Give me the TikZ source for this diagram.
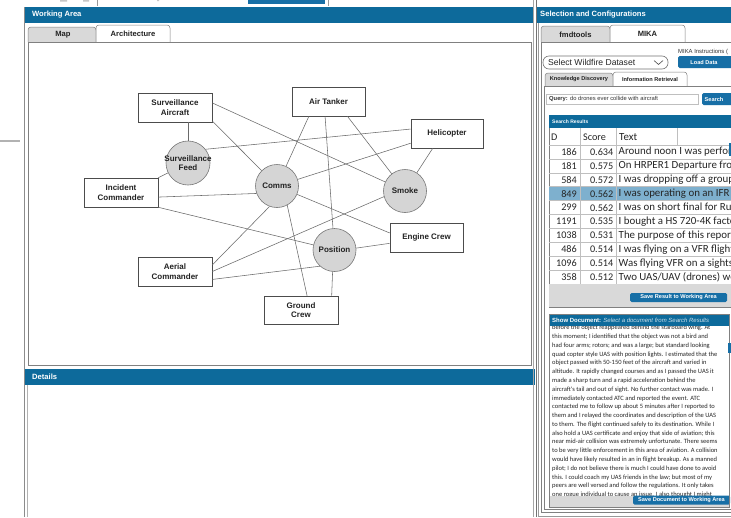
\documentclass[tikz,border=0pt]{standalone}
\usepackage{fontspec}
\setmainfont{Liberation Sans}
\newfontfamily\calib{Carlito}
\usetikzlibrary{calc}
\definecolor{hdrblue}{HTML}{0D6A9B}
\definecolor{btnblue}{HTML}{176FA6}
\definecolor{tabgray}{HTML}{D9D9D9}
\definecolor{rowsel}{HTML}{7EB0CE}
\definecolor{hubfill}{HTML}{D5D5D5}
\definecolor{hubline}{HTML}{777777}
\definecolor{edgegray}{HTML}{6A6A6A}
\definecolor{ink}{HTML}{222222}
\begin{document}
\begin{tikzpicture}[x=1pt,y=-1pt,
  box/.style={draw=black!70, fill=white, line width=0.6pt, minimum width=74pt,
    minimum height=29pt, inner sep=0pt, align=center,
    font=\fontsize{8}{9.5}\selectfont\bfseries, text=ink},
  hub/.style={circle, draw=hubline, fill=hubfill, line width=0.6pt,
    minimum size=43pt, inner sep=0pt},
  hubtext/.style={inner sep=0pt, align=center, font=\fontsize{8}{9.5}\selectfont\bfseries, text=ink},
  link/.style={draw=edgegray, line width=0.55pt},
  headtext/.style={text=white, anchor=west, inner sep=0pt, font=\fontsize{7.6}{9}\selectfont\bfseries},
  tabtext/.style={inner sep=0pt, text=ink, font=\fontsize{7.6}{9}\selectfont\bfseries},
  smalltab/.style={inner sep=0pt, text=ink, font=\fontsize{5.6}{7}\selectfont\bfseries},
  btntext/.style={text=white, inner sep=0pt, font=\fontsize{5.6}{7}\selectfont\bfseries},
  cell/.style={inner sep=0pt, text=black!85, font=\calib\fontsize{10.2}{12}\selectfont},
  celltext/.style={inner sep=0pt, text=black!85, anchor=west, font=\calib\fontsize{10.9}{12}\selectfont},
  docline/.style={anchor=west, inner sep=0pt, text=black!85, font=\calib\fontsize{6.5}{8}\selectfont},
  tabframe/.style={draw=black!50, line width=0.5pt, rounded corners=3pt},
  frame/.style={draw=black!50, line width=0.5pt}
]
\clip (0,0) rectangle (731,517);
\fill[white] (0,0) rectangle (731,517);

% --- strip of the window above the panels ---
\fill[btnblue] (248,-4) rectangle (325,4);
\draw[black!40, line width=0.8pt] (97,0) -- (97,6) (328,0) -- (328,6);
\fill[black!22] (60,0) rectangle (67,1.5) (83,0) rectangle (89,1.5) (157,0) rectangle (159,1);
\draw[black!30, line width=1.2pt] (0,141) -- (20,141);

% --- Working Area panel ---
\draw[black!45, line width=0.8pt] (24.5,7) -- (24.5,517);
\draw[black!30, line width=0.6pt] (27,385) -- (27,517);
\fill[hdrblue] (24.5,7) rectangle (533,23);
\node[headtext] at (32,15) {Working Area};
\filldraw[tabframe, fill=tabgray] (28,42) |- (96,27) -- (96,42);
\filldraw[tabframe, fill=white] (96,42) |- (170,25) -- (170,42);
\node[tabtext] at (63,34.5) {Map};
\node[tabtext] at (133,34) {Architecture};
\draw[frame] (28,42) rectangle (531,365);

% --- architecture graph ---
\node[box] (SA) at (175,107.5) {Surveillance\\Aircraft};
\node[box, minimum width=73pt] (AT) at (328.5,101.5) {Air Tanker};
\node[box, minimum width=72pt] (HE) at (447,133.5) {Helicopter};
\node[box] (IC) at (121,192.5) {Incident\\Commander};
\node[box, minimum width=73pt] (EC) at (426.5,237.5) {Engine Crew};
\node[box] (AC) at (175,271.5) {Aerial\\Commander};
\node[box, minimum height=28pt] (GC) at (301,310) {Ground\\Crew};
\node[hub, minimum size=44pt] (SF) at (188,163) {};
\node[hubtext] at (SF) {Surveillance\\Feed};
\node[hub] (CO) at (277,186) {};
\node[hubtext] at (CO) {Comms};
\node[hub] (SM) at (405,191) {};
\node[hubtext] at (SM) {Smoke};
\node[hub] (PO) at (334.5,250) {};
\node[hubtext] at (PO) {Position};

\draw[link] (SF.north) -- (SF.north |- SA.south);
\draw[link] (SA.7) -- (SM);
\draw[link] (SA.340) -- (CO);
\draw[link] (SF.38) -- (HE.173);
\draw[link] (IC.north east) -- (SF);
\draw[link] (IC.353) -- (CO.200);
\draw[link] (IC.south east) -- (PO);
\draw[link] (AT.217) -- (CO);
\draw[link] (AT.257) -- (PO);
\draw[link] (AT.322) -- (SM);
\draw[link] (HE.226) -- (SM);
\draw[link] (HE.195) -- (CO);
\draw[link] (CO) -- (EC.173);
\draw[link] (AC.10) -- (CO.250);
\draw[link] (CO.298) -- (GC.67);
\draw[link] (AC.east) -- (SM.195);
\draw[link] (AC.348) -- (PO.228);
\draw[link] (PO.5) -- (EC.189);
\draw[link] (PO.265) -- (GC.25);

% --- Details panel ---
\fill[hdrblue] (24.5,369) rectangle (535,385);
\node[headtext] at (32,377) {Details};

% --- Selection and Configurations panel ---
\draw[black!35, line width=0.6pt] (533.5,0) -- (533.5,517);
\draw[black!55, line width=0.8pt] (536.5,0) -- (536.5,517);
\draw[black!40, line width=0.6pt] (538.5,23) -- (538.5,516) -- (740,516);
\fill[hdrblue] (537,7) rectangle (740,23);
\node[headtext] at (540,15) {Selection and Configurations};
\filldraw[tabframe, fill=tabgray] (541,42) |- (610,26) -- (610,42);
\filldraw[tabframe, fill=white] (610,42) |- (685,25) -- (685,42);
\node[tabtext] at (575.5,34.5) {fmdtools};
\node[tabtext] at (647.5,34) {MIKA};
\draw[frame] (740,42) -- (541,42) -- (541,512) -- (740,512);

\node[anchor=west, inner sep=0pt, text=black!80, font=\fontsize{5.9}{7}\selectfont] at (678,51.5) {MIKA Instructions (};
\draw[black!55, line width=0.6pt, rounded corners=6pt] (543,56) rectangle (668,69);
\node[anchor=west, inner sep=0pt, text=black!85, font=\fontsize{8.6}{10}\selectfont] at (548,62.5) {Select Wildfire Dataset};
\draw[black!70, line width=0.6pt] (654,60.5) -- (658.5,64.5) -- (663,60.5);
\fill[btnblue, rounded corners=1.5pt] (678,56) rectangle (738,68);
\node[btntext] at (704,62) {Load Data};

\filldraw[tabframe, fill=tabgray] (545,86) |- (613,73) -- (613,86);
\filldraw[tabframe, fill=white] (613,86) |- (687,72) -- (687,86);
\node[smalltab] at (579,79.5) {Knowledge Discovery};
\node[smalltab] at (650,79) {Information Retrieval};
\draw[frame] (740,86) -- (544,86) -- (544,509) -- (740,509);

\draw[black!25, line width=0.5pt] (546,94) rectangle (698,104);
\node[anchor=west, inner sep=0pt, text=black!80, font=\fontsize{5.8}{7}\selectfont] at (549,99) {\textbf{Query:} do drones ever collide with aircraft};
\fill[btnblue, rounded corners=1.5pt] (702,93) rectangle (740,105);
\node[btntext] at (714,99) {Search};

% search results table
\draw[frame] (549,115) rectangle (740,307);
\fill[hdrblue] (549,115) rectangle (740,128);
\node[headtext, font=\fontsize{5}{6}\selectfont\bfseries] at (552,121.5) {Search Results};
\fill[rowsel] (549,186.7) rectangle (740,200.6);
\foreach \i in {0,...,10} {
  \draw[black!25, line width=0.5pt] (549,145+13.9*\i) -- (740,145+13.9*\i);
}
\draw[black!25, line width=0.5pt] (580,128) -- (580,284) (616,128) -- (616,284) (677,128) -- (677,145);
\node[cell, anchor=west] at (551,137) {D};
\node[cell, anchor=west] at (583,137) {Score};
\node[celltext] at (619,137) {Text};
\foreach \i/\d/\s/\t in {
  0/186/0.634/{Around noon I was performing},
  1/181/0.575/{On HRPER1 Departure from},
  2/584/0.572/{I was dropping off a group},
  3/849/0.562/{I was operating on an IFR},
  4/299/0.562/{I was on short final for Runway},
  5/1191/0.535/{I bought a HS 720-4K factory},
  6/1038/0.531/{The purpose of this report},
  7/486/0.514/{I was flying on a VFR flight},
  8/1096/0.514/{Was flying VFR on a sightseeing},
  9/358/0.512/{Two UAS/UAV (drones) were}} {
  \pgfmathsetmacro{\yy}{152+13.9*\i}
  \node[cell, anchor=east] at (577,\yy) {\d};
  \node[cell, anchor=east] at (613.5,\yy) {\s};
  \node[celltext] at (618.5,\yy) {\t};
}
\fill[btnblue] (728.5,143) rectangle (731,156);
\fill[tabgray] (549.3,284.3) rectangle (740,306.7);
\fill[btnblue, rounded corners=1.5pt] (630,293) rectangle (727,302);
\node[btntext] at (678.5,297.5) {Save Result to Working Area};

% document viewer
\begin{scope}
\clip (549,314) rectangle (729,507);
\foreach \k/\ln in {
  0/{before the object reappeared behind the starboard wing. At},
  1/{this moment; I identified that the object was not a bird and},
  2/{had four arms; rotors; and was a large; but standard looking},
  3/{quad copter style UAS with position lights. I estimated that the},
  4/{object passed with 50-150 feet of the aircraft and varied in},
  5/{altitude. It rapidly changed courses and as I passed the UAS it},
  6/{made a sharp turn and a rapid acceleration behind the},
  7/{aircraft's tail and out of sight. No further contact was made. I},
  8/{immediately contacted ATC and reported the event. ATC},
  9/{contacted me to follow up about 5 minutes after I reported to},
  10/{them and I relayed the coordinates and description of the UAS},
  11/{to them. The flight continued safely to its destination. While I},
  12/{also hold a UAS certificate and enjoy that side of aviation; this},
  13/{near mid-air collision was extremely unfortunate. There seems},
  14/{to be very little enforcement in this area of aviation. A collision},
  15/{would have likely resulted in an in flight breakup. As a manned},
  16/{pilot; I do not believe there is much I could have done to avoid},
  17/{this. I could coach my UAS friends in the law; but most of my},
  18/{peers are well versed and follow the regulations. It only takes},
  19/{one rogue individual to cause an issue. I also thought I might}} {
  \node[docline] at (552,328.2+8.77*\k) {\ln};
}
\end{scope}
\fill[hdrblue] (549,314) rectangle (729,326);
\node[headtext, font=\fontsize{6}{7}\selectfont\bfseries] at (552,320)
  {Show Document: {\mdseries\itshape\color{white!80!hdrblue}Select a document from Search Results}};
\fill[tabgray] (549.3,495.5) rectangle (728.7,506.7);
\fill[btnblue, rounded corners=1.5pt] (633,495.5) rectangle (730,504.5);
\node[btntext] at (681.5,500) {Save Document to Working Area};
\draw[frame] (549,314) rectangle (729,507);
\fill[btnblue] (727.5,343) rectangle (731,353);
\end{tikzpicture}
\end{document}
